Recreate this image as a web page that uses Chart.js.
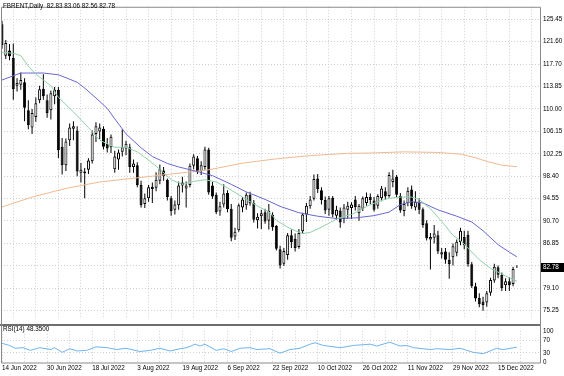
<!DOCTYPE html>
<html>
<head>
<meta charset="utf-8">
<script src="https://cdn.jsdelivr.net/npm/chart.js@4"></script>
<style>
  html, body { margin: 0; padding: 0; background: #fff; }
  #wrap { position: relative; width: 564px; height: 376px; overflow: hidden; background: #fff; }
  canvas { position: absolute; left: 0; }
  #main { top: 0; }
  #rsi { top: 324px; }
</style>
</head>
<body>
<div id="wrap">
  <canvas id="main" width="564" height="326"></canvas>
  <canvas id="rsi" width="564" height="52"></canvas>
</div>
<script>
var symbolName = 'FBRENT,Daily';
var dateLabels = ['14 Jun 2022', '30 Jun 2022', '18 Jul 2022', '3 Aug 2022', '19 Aug 2022', '6 Sep 2022',
  '22 Sep 2022', '10 Oct 2022', '26 Oct 2022', '11 Nov 2022', '29 Nov 2022', '15 Dec 2022'];
var priceTicks = [125.45, 121.60, 117.70, 113.85, 110.00, 106.15, 102.25, 98.40, 94.55, 90.70, 86.85, 83.00, 79.10, 75.25];
var rsiTicks = [0, 30, 70, 100];

// daily bars, 14 Jun 2022 .. 22 Dec 2022
var opens = [124.6, 119.2, 120.1, 118.8, 114.0, 114.2, 114.6, 109.8, 106.8, 108.6,
  111.5, 113.5, 111.5, 109.8, 112.2, 113.3, 103.5, 100.3, 104.6, 106.6,
  106.3, 99.0, 98.9, 99.5, 101.0, 105.7, 106.1, 106.6, 104.0, 103.4,
  99.6, 101.3, 102.6, 103.2, 103.4, 100.0, 100.3, 96.9, 93.6, 94.6,
  96.6, 96.4, 97.6, 99.4, 97.8, 94.6, 92.6, 93.4, 96.8, 96.3,
  96.9, 100.2, 101.5, 99.3, 100.0, 103.0, 96.8, 95.2, 92.3, 93.5,
  95.5, 92.8, 88.0, 89.1, 93.0, 93.4, 95.2, 93.8, 90.8, 91.5,
  92.2, 90.7, 91.7, 89.8, 85.8, 83.3, 84.8, 88.2, 87.6, 86.2,
  88.9, 91.8, 93.2, 94.5, 98.0, 96.0, 94.3, 92.6, 94.7, 91.6,
  92.5, 91.0, 92.6, 92.9, 94.4, 92.0, 92.8, 93.8, 94.8, 94.2,
  93.3, 94.6, 95.8, 95.0, 97.4, 98.3, 95.0, 92.4, 93.8, 96.1,
  93.0, 94.0, 92.7, 90.3, 87.5, 87.8, 88.2, 84.9, 85.4, 84.0,
  84.4, 85.2, 87.0, 87.9, 88.3, 83.2, 79.4, 77.4, 76.8, 76.6,
  78.3, 80.4, 82.7, 81.4, 79.6, 80.3, 79.8, 82.83];
var highs = [125.2, 121.9, 121.2, 121.3, 115.3, 116.3, 115.3, 111.5, 110.0, 112.0,
  114.0, 116.0, 112.5, 113.2, 113.8, 113.8, 105.0, 104.9, 107.5, 107.9,
  107.0, 100.7, 99.8, 101.5, 106.3, 107.7, 107.5, 107.0, 105.0, 105.6,
  102.8, 103.0, 106.5, 104.5, 104.0, 101.3, 100.8, 97.6, 95.4, 96.9,
  97.3, 99.1, 100.4, 100.0, 98.0, 95.0, 94.2, 97.5, 98.3, 97.5,
  100.6, 102.2, 101.9, 101.0, 103.5, 103.3, 97.4, 95.6, 94.0, 97.0,
  96.0, 93.6, 89.5, 93.7, 94.8, 95.6, 95.7, 94.3, 92.0, 92.6,
  92.8, 93.6, 92.2, 90.0, 86.4, 86.0, 88.6, 89.2, 88.5, 89.3,
  92.1, 93.8, 95.0, 98.7, 98.8, 96.5, 94.9, 95.0, 95.0, 93.3,
  93.0, 93.6, 94.0, 93.9, 95.0, 93.6, 94.9, 95.6, 95.4, 94.8,
  95.3, 96.7, 96.5, 99.1, 99.5, 98.6, 95.5, 94.2, 96.5, 96.8,
  95.8, 94.6, 93.0, 90.8, 88.6, 90.0, 89.0, 86.0, 86.0, 85.3,
  86.8, 87.5, 89.5, 89.0, 89.0, 83.6, 80.0, 78.2, 77.6, 78.6,
  80.9, 83.3, 83.0, 81.8, 80.8, 81.0, 82.8, 83.06];
var lows = [120.4, 118.6, 118.4, 111.6, 113.0, 113.3, 107.9, 106.5, 105.7, 107.8,
  111.0, 111.6, 108.5, 108.2, 110.8, 101.5, 98.7, 99.3, 103.6, 104.6,
  98.4, 97.3, 94.6, 98.8, 100.6, 104.3, 104.8, 103.0, 102.5, 102.4,
  99.0, 99.5, 101.8, 102.0, 99.0, 99.0, 96.5, 93.0, 92.9, 94.0,
  93.8, 95.8, 97.0, 97.6, 94.2, 91.6, 91.8, 92.6, 95.6, 93.0,
  96.5, 99.6, 98.8, 98.6, 99.5, 95.2, 94.5, 91.9, 91.6, 93.0,
  92.2, 87.2, 87.4, 88.8, 92.2, 92.6, 93.3, 90.4, 89.4, 89.3,
  90.2, 89.2, 89.0, 85.6, 82.5, 82.9, 84.0, 86.0, 85.4, 85.9,
  88.5, 90.5, 92.8, 94.2, 95.5, 93.5, 91.9, 91.6, 91.3, 90.9,
  89.5, 90.3, 91.0, 91.0, 92.5, 90.7, 92.4, 93.3, 93.6, 92.3,
  92.8, 94.1, 94.3, 94.7, 96.5, 94.8, 92.1, 91.5, 93.2, 92.8,
  92.5, 91.9, 89.5, 87.3, 82.3, 86.8, 85.0, 84.2, 83.3, 80.7,
  83.0, 84.6, 86.5, 85.8, 82.8, 79.1, 76.8, 75.8, 75.2, 75.9,
  77.8, 80.0, 80.8, 78.6, 78.6, 78.6, 79.4, 82.56];
var closes = [121.0, 121.4, 119.1, 113.4, 114.5, 115.0, 110.2, 107.2, 109.3, 111.0,
  113.4, 112.2, 109.3, 112.7, 113.3, 102.9, 100.3, 104.4, 106.8, 107.0,
  99.2, 99.5, 99.2, 101.1, 105.6, 107.0, 106.8, 103.5, 103.2, 105.2,
  101.8, 102.5, 103.4, 104.0, 100.0, 100.6, 96.9, 93.4, 94.6, 96.5,
  96.2, 97.8, 99.6, 98.4, 94.8, 92.4, 93.5, 96.8, 97.3, 96.8,
  100.2, 101.8, 99.3, 100.3, 103.0, 95.6, 94.9, 92.2, 93.2, 95.4,
  92.7, 87.8, 88.8, 93.4, 94.4, 95.2, 93.7, 90.9, 91.4, 92.0,
  90.6, 92.4, 89.6, 85.9, 83.0, 85.5, 88.2, 87.0, 86.0, 88.6,
  91.8, 93.3, 94.4, 97.9, 96.2, 94.3, 92.5, 94.6, 91.8, 92.6,
  90.4, 93.0, 93.3, 93.5, 93.1, 93.3, 94.6, 94.8, 94.3, 92.6,
  95.0, 96.3, 94.9, 98.6, 98.0, 95.2, 92.5, 93.6, 95.9, 93.2,
  94.0, 92.6, 90.0, 87.7, 87.9, 88.5, 85.4, 85.3, 84.0, 83.2,
  86.3, 87.1, 89.0, 86.5, 83.2, 79.4, 77.3, 76.3, 76.2, 78.2,
  80.5, 82.8, 81.4, 79.1, 80.3, 79.6, 82.4, 82.78];

// moving averages (bar index / price)
var fastIdx = [0, 3, 5, 7, 9, 13, 15, 19, 23, 26, 30, 33, 36, 39, 42, 45, 48, 51, 54, 57,
  60, 63, 66, 69, 71, 73, 76, 78, 80, 82, 85, 87, 89, 91, 93, 95, 97, 100, 103, 106,
  109, 111, 114, 117, 120, 122, 124, 127, 130, 134, 137];
var fastVals = [119.8, 119.6, 119.2, 117.4, 116.0, 114.0, 112.0, 109.5, 106.8, 104.6, 103.4, 103.4, 102.6, 101.2, 99.6, 97.8, 97.0, 97.5, 97.8, 97.4,
  96.4, 95.2, 94.0, 92.9, 92.3, 90.8, 89.6, 89.0, 88.5, 88.7, 89.6, 90.3, 91.0, 91.5, 91.8, 92.4, 93.2, 94.0, 94.6, 94.8,
  94.8, 94.4, 92.8, 90.6, 88.2, 87.3, 86.0, 84.0, 82.5, 81.2, 80.3];
var midIdx = [0, 5, 11, 15, 17, 20, 22, 25, 28, 30, 33, 37, 40, 44, 47, 52, 56, 61, 65, 70,
  74, 79, 84, 89, 94, 99, 103, 106, 109, 112, 116, 121, 125, 128, 132, 135, 137];
var midVals = [115.0, 116.2, 116.2, 115.9, 115.4, 114.6, 113.6, 111.9, 110.1, 108.3, 105.7, 103.3, 101.8, 100.6, 100.0, 99.2, 98.5, 97.0, 95.7, 94.4,
  93.2, 92.1, 91.5, 91.1, 91.2, 91.6, 92.2, 93.5, 94.0, 93.8, 92.6, 91.5, 90.5, 89.0, 86.6, 85.3, 84.5];
var slowIdx = [0, 8, 17, 26, 35, 44, 55, 64, 73, 82, 92, 98, 107, 116, 122, 126, 129, 133, 137];
var slowVals = [93.1, 94.8, 96.3, 97.4, 98.05, 98.7, 99.5, 100.65, 101.4, 101.95, 102.35, 102.4, 102.6, 102.5, 102.2, 101.6, 100.95, 100.3, 100.05];

// RSI(14)
var rsiIdx = [0, 2, 3.5, 5.6, 7.5, 10, 13, 14, 16, 18, 20, 22.5, 25, 28, 30.5, 33, 36.7, 39.4, 42, 44.7,
  47.4, 49.2, 51.4, 52.7, 54, 57, 59, 61, 63.3, 66, 67.8, 71.3, 74, 76.6, 79.3, 82, 83.3, 85.5, 90, 93.5,
  98, 99.7, 103.2, 105.9, 107.7, 109.5, 113.9, 115.7, 119.2, 121.9, 125.4, 128.1, 129.9, 131.6, 133.4, 137];
var rsiVals = [60.4, 53.7, 44.9, 46.7, 38.2, 46.7, 40.8, 46.7, 32.0, 43.4, 36.4, 38.2, 49.3, 46.7, 40.8, 44.9, 34.6, 38.2, 44.9, 36.4,
  43.4, 46.7, 57.8, 51.9, 57.8, 38.2, 43.4, 34.6, 44.9, 46.7, 40.8, 43.4, 29.4, 40.8, 44.9, 57.8, 62.2, 53.7, 46.7, 53.7,
  57.8, 51.9, 64.0, 51.9, 53.7, 46.7, 40.8, 43.4, 40.8, 44.9, 32.0, 27.9, 36.4, 44.9, 40.8, 48.35];
var rsiLabel = 'RSI(14) 48.3500';

var FONT = "'Liberation Sans', Arial, sans-serif";
var GRID = '#cfcfcf';
var X_MIN = -0.27, X_MAX = 143.16;
var Y_MIN = 73.73, Y_MAX = 127.63;

var gridIdx = [];
for (var g = 0; g <= 138; g += 6) gridIdx.push(g);

function pts(idx, vals) {
  return idx.map(function(x, k) { return { x: x, y: vals[k] }; });
}

var bodies = opens.map(function(o, i) { return { x: i, y: [o, closes[i]] }; });
var wicks = lows.map(function(l, i) { return { x: i, y: [l, highs[i]] }; });
var bodyFill = opens.map(function(o, i) { return closes[i] >= o ? '#ffffff' : '#000000'; });

var last = closes.length - 1;
var headerText = symbolName + '  ' + opens[last].toFixed(2) + ' ' + highs[last].toFixed(2) + ' ' +
  lows[last].toFixed(2) + ' ' + closes[last].toFixed(2);

var mainDecor = {
  id: 'mainDecor',
  afterDraw: function(chart) {
    var c = chart.ctx, a = chart.chartArea;
    c.save();
    c.strokeStyle = '#8a8a8a';
    c.lineWidth = 1;
    c.beginPath();
    c.moveTo(a.left + 0.5, 326);
    c.lineTo(a.left + 0.5, a.top + 0.5);
    c.lineTo(a.right + 0.5, a.top + 0.5);
    c.lineTo(a.right + 0.5, 326);
    c.stroke();
    c.font = '6.3px ' + FONT;
    c.fillStyle = '#000';
    c.textBaseline = 'middle';
    c.fillText(headerText, 3, 6);
    var y = Math.round(chart.scales.y.getPixelForValue(closes[last]));
    c.fillRect(a.right + 1, y - 4, 24, 9);
    c.fillStyle = '#fff';
    c.fillText(closes[last].toFixed(2), a.right + 3, y + 0.5);
    c.restore();
  }
};

var rsiDecor = {
  id: 'rsiDecor',
  afterDraw: function(chart) {
    var c = chart.ctx, a = chart.chartArea;
    c.save();
    c.fillStyle = '#6e6e6e';
    c.fillRect(0, 0, a.right + 1, 2);
    c.strokeStyle = '#8a8a8a';
    c.lineWidth = 1;
    c.beginPath();
    c.moveTo(a.left + 0.5, 0);
    c.lineTo(a.left + 0.5, a.bottom + 0.5);
    c.lineTo(a.right + 0.5, a.bottom + 0.5);
    c.lineTo(a.right + 0.5, 0);
    c.stroke();
    c.font = '6.3px ' + FONT;
    c.fillStyle = '#000';
    c.textBaseline = 'middle';
    c.fillText(rsiLabel, 3, 5.5);
    c.restore();
  }
};

new Chart(document.getElementById('main'), {
  type: 'bar',
  data: {
    datasets: [
      { type: 'line', data: pts(fastIdx, fastVals), borderColor: '#8fd0a9', borderWidth: 1, pointRadius: 0, order: 0 },
      { type: 'line', data: pts(midIdx, midVals), borderColor: '#6767d0', borderWidth: 1, pointRadius: 0, order: 0 },
      { type: 'line', data: pts(slowIdx, slowVals), borderColor: '#f1b98f', borderWidth: 1, pointRadius: 0, order: 0 },
      { type: 'bar', data: bodies, backgroundColor: bodyFill, borderColor: '#000', borderWidth: 1,
        borderSkipped: false, barThickness: 3, grouped: false, inflateAmount: 0, order: 1 },
      { type: 'bar', data: wicks, backgroundColor: '#000', borderWidth: 0, barThickness: 1,
        grouped: false, inflateAmount: 0, order: 2 }
    ]
  },
  options: {
    responsive: false,
    animation: false,
    devicePixelRatio: 1,
    layout: { padding: { left: 1, top: 2, right: 0, bottom: 2 } },
    plugins: { legend: { display: false }, tooltip: { enabled: false } },
    scales: {
      x: {
        type: 'linear', min: X_MIN, max: X_MAX, offset: false,
        afterBuildTicks: function(s) { s.ticks = gridIdx.map(function(v) { return { value: v }; }); },
        afterFit: function(s) { s.height = 0; },
        ticks: { display: false },
        grid: { color: GRID, drawTicks: false },
        border: { display: false, dash: [1, 2] }
      },
      y: {
        position: 'right', min: Y_MIN, max: Y_MAX,
        afterBuildTicks: function(s) { s.ticks = priceTicks.map(function(v) { return { value: v }; }); },
        afterFit: function(s) { s.width = 24; },
        ticks: {
          font: { family: FONT, size: 6.3 }, color: '#000', padding: 3,
          callback: function(v) { return v === 83 ? '' : v.toFixed(2); }
        },
        grid: { color: GRID, drawTicks: false },
        border: { display: false, dash: [1, 2] }
      }
    }
  },
  plugins: [mainDecor]
});

new Chart(document.getElementById('rsi'), {
  type: 'line',
  data: {
    datasets: [
      { data: pts(rsiIdx, rsiVals), borderColor: '#6fb4ec', borderWidth: 1, pointRadius: 0 }
    ]
  },
  options: {
    responsive: false,
    animation: false,
    devicePixelRatio: 1,
    layout: { padding: { left: 1, top: 3, right: 0, bottom: 0 } },
    plugins: { legend: { display: false }, tooltip: { enabled: false } },
    scales: {
      x: {
        type: 'linear', min: X_MIN, max: X_MAX, offset: false,
        afterBuildTicks: function(s) { s.ticks = gridIdx.map(function(v) { return { value: v }; }); },
        afterFit: function(s) { s.height = 13.5; },
        ticks: {
          autoSkip: false, maxRotation: 0, align: 'start', padding: 2,
          font: { family: FONT, size: 6.3 }, color: '#000',
          callback: function(v) { return v % 12 === 0 ? dateLabels[v / 12] : ''; }
        },
        grid: { color: GRID, drawTicks: false },
        border: { display: false, dash: [1, 2] }
      },
      y: {
        position: 'right', min: 0, max: 100,
        afterBuildTicks: function(s) { s.ticks = rsiTicks.map(function(v) { return { value: v }; }); },
        afterFit: function(s) { s.width = 24; },
        ticks: { font: { family: FONT, size: 6.3 }, color: '#000', padding: 3 },
        grid: {
          drawTicks: false,
          color: function(ctx) {
            var v = ctx.tick ? ctx.tick.value : null;
            return (v === 30 || v === 70) ? GRID : 'rgba(0,0,0,0)';
          }
        },
        border: { display: false, dash: [1, 2] }
      }
    }
  },
  plugins: [rsiDecor]
});
</script>
</body>
</html>
